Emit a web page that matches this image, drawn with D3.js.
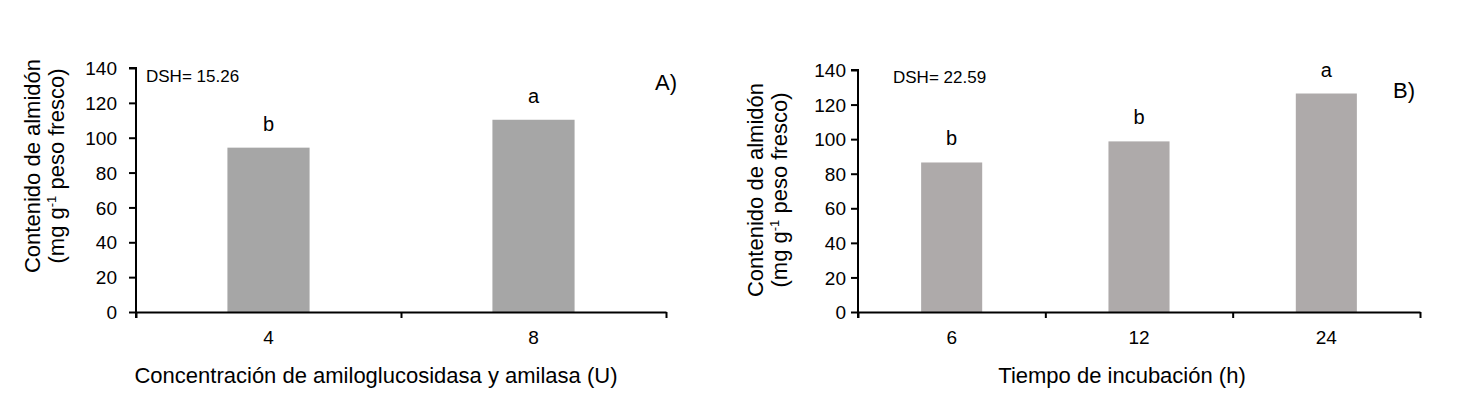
<!DOCTYPE html>
<html>
<head>
<meta charset="utf-8">
<script src="https://cdn.jsdelivr.net/npm/d3@7"></script>
<style>
  body { margin: 0; background: #fff; }
  svg text { font-family: Arial, "Liberation Sans", sans-serif; fill: #000; }
</style>
</head>
<body>
<div id="chart"></div>
<script>
// panel A data
var conc_categories = ["4", "8"];
var conc_values = [94.3, 110.3];
var conc_letters = ["b", "a"];

// panel B data
var time_categories = ["6", "12", "24"];
var time_values = [86.5, 98.7, 126.4];
var time_letters = ["b", "b", "a"];

var y_ticks = [0, 20, 40, 60, 80, 100, 120, 140];

const width = 1470;
const height = 410;

const svg = d3
  .select("#chart")
  .append("svg")
  .attr("width", width)
  .attr("height", height);

drawPanel({
  left: 136, right: 666, top: 68, bottom: 312,
  categories: conc_categories, values: conc_values, letters: conc_letters,
  barRatio: 0.31, color: "#a6a6a6", tickPad: 12,
  dsh: "DSH= 15.26", dshX: 146, dshY: 82,
  tag: "A)", tagX: 655, tagY: 90,
  xTitle: "Concentración de amiloglucosidasa y amilasa (U)", xTitleX: 376,
  yTitleX: 40, yTitleY: 166
});

drawPanel({
  left: 858, right: 1420, top: 70, bottom: 312,
  categories: time_categories, values: time_values, letters: time_letters,
  barRatio: 0.326, color: "#aeaaaa", tickPad: 5,
  dsh: "DSH= 22.59", dshX: 893, dshY: 83,
  tag: "B)", tagX: 1393, tagY: 98,
  xTitle: "Tiempo de incubación (h)", xTitleX: 1122,
  yTitleX: 763, yTitleY: 190
});

function drawPanel(p) {
  var g = svg.append("g");
  var n = p.categories.length;

  var x = d3
    .scaleBand()
    .domain(p.categories)
    .range([p.left, p.right])
    .paddingInner(1 - p.barRatio)
    .paddingOuter((1 - p.barRatio) / 2);

  var y = d3.scaleLinear().domain([0, 140]).range([p.bottom, p.top]);

  // bars
  g.selectAll("rect")
    .data(p.values)
    .enter()
    .append("rect")
    .attr("x", (d, i) => x(p.categories[i]))
    .attr("y", (d) => y(d))
    .attr("width", x.bandwidth())
    .attr("height", (d) => y(0) - y(d))
    .attr("fill", p.color);

  // significance letters
  g.selectAll(".letter")
    .data(p.letters)
    .enter()
    .append("text")
    .attr("class", "letter")
    .attr("x", (d, i) => x(p.categories[i]) + x.bandwidth() / 2)
    .attr("y", (d, i) => y(p.values[i]) - 17)
    .attr("text-anchor", "middle")
    .style("font-size", "20px")
    .text((d) => d);

  // y axis
  var yAxis = g
    .append("g")
    .attr("transform", "translate(" + p.left + ",0)")
    .call(d3.axisLeft(y).tickValues(y_ticks).tickSize(7).tickPadding(p.tickPad));
  yAxis.select(".domain").attr("stroke", "#000").attr("stroke-width", 2)
    .attr("d", "M-7," + p.top + "H0V" + (p.bottom + 6));
  yAxis.selectAll(".tick line").attr("stroke-width", 2);
  yAxis.selectAll(".tick text").style("font-size", "19px").attr("dy", "0.35em");

  // x axis: ticks at category boundaries, labels at centers
  var xb = d3.scaleLinear().domain([0, n]).range([p.left, p.right]);
  var xAxis = g
    .append("g")
    .attr("transform", "translate(0," + p.bottom + ")")
    .call(d3.axisBottom(xb).tickValues(d3.range(n + 1)).tickFormat("").tickSize(6).tickSizeOuter(0));
  xAxis.select(".domain").attr("stroke-width", 2);
  xAxis.selectAll(".tick line").attr("stroke-width", 2);

  var xLabels = g
    .append("g")
    .attr("transform", "translate(0," + p.bottom + ")")
    .call(d3.axisBottom(x).tickSize(0).tickPadding(19));
  xLabels.select(".domain").remove();
  xLabels.selectAll(".tick text").style("font-size", "19px");

  // DSH note
  g.append("text")
    .attr("x", p.dshX)
    .attr("y", p.dshY)
    .style("font-size", "17px")
    .text(p.dsh);

  // panel tag
  g.append("text")
    .attr("x", p.tagX)
    .attr("y", p.tagY)
    .style("font-size", "22px")
    .text(p.tag);

  // x title
  g.append("text")
    .attr("x", p.xTitleX)
    .attr("y", 383)
    .attr("text-anchor", "middle")
    .style("font-size", "22px")
    .text(p.xTitle);

  // y title, two lines
  var yt = g
    .append("text")
    .attr("transform", "translate(" + p.yTitleX + "," + p.yTitleY + ") rotate(-90)")
    .attr("text-anchor", "middle")
    .style("font-size", "22px");
  yt.append("tspan").attr("x", 0).attr("dy", 0).text("Contenido de almidón");
  var l2 = yt.append("tspan").attr("x", 0).attr("dy", 24);
  l2.append("tspan").text("(mg g");
  l2.append("tspan").attr("dy", -8).style("font-size", "13px").text("-1");
  l2.append("tspan").attr("dy", 8).text(" peso fresco)");
}
</script>
</body>
</html>
